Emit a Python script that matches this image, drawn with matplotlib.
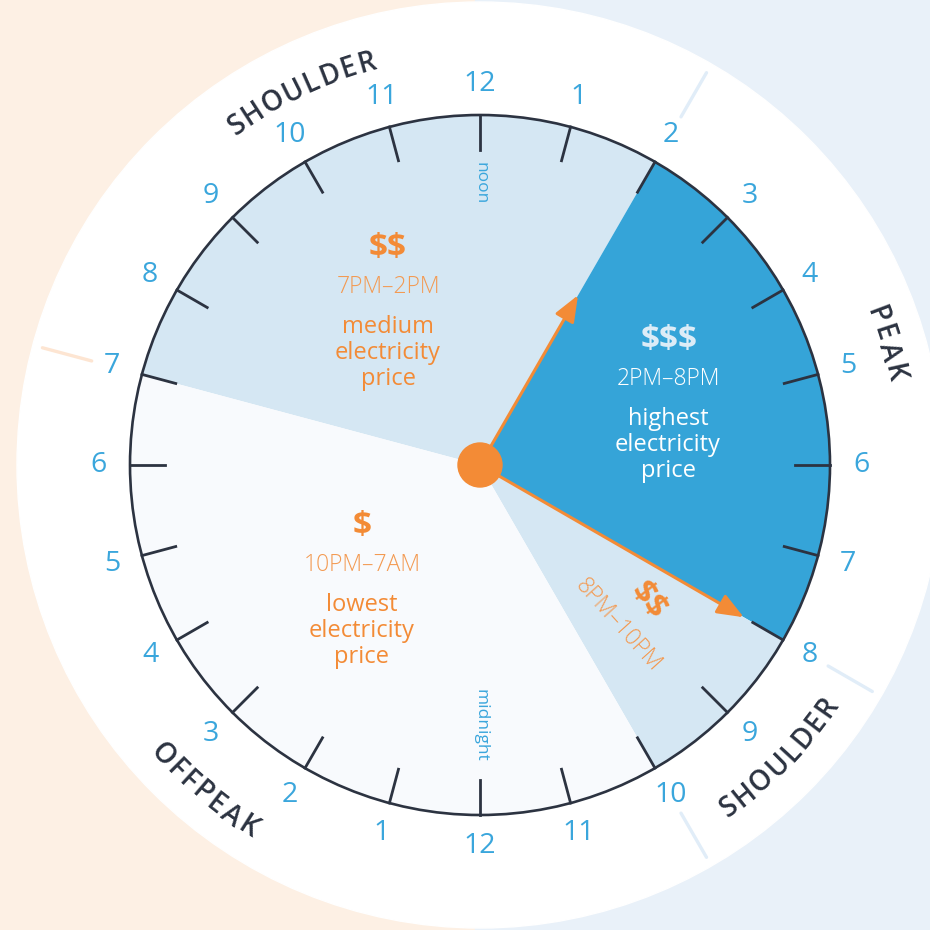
import numpy as np
import matplotlib.pyplot as plt
from matplotlib.patches import Wedge, Circle, Rectangle, FancyArrowPatch
from matplotlib.font_manager import FontProperties
from matplotlib.textpath import TextPath

plt.rcParams["text.parse_math"] = False

# tariff periods on a 24 hour clock (hour 0 = midnight at the bottom, noon on top)
period_names = ["SHOULDER", "PEAK", "SHOULDER", "OFFPEAK"]
period_start = [7, 14, 20, 22]
period_end = [14, 20, 22, 31]
price_signs = ["$$", "$$$", "$$", "$"]
period_ranges = ["7PM–2PM", "2PM–8PM", "8PM–10PM", "10PM–7AM"]
period_desc = ["medium\nelectricity\nprice", "highest\nelectricity\nprice", "",
               "lowest\nelectricity\nprice"]
hour_labels = [12, 1, 2, 3, 4, 5, 6, 7, 8, 9, 10, 11,
               12, 1, 2, 3, 4, 5, 6, 7, 8, 9, 10, 11]
arrow_hours = [14, 20]
arrow_len = [0.56, 0.87]
# where the outer period names sit (hour, radius)
name_hour = [10.3, 16.9, 20.95, 2.68]
name_radius = [410, 416, 431, 438]
name_outward = [True, True, False, False]

FONT = "Open Sans"
ORANGE = "#f38b36"
ORANGE_LT = "#f39a52"
BLUE_TXT = "#3aa6dc"
DARK = "#2c3341"
R = 350  # clock face radius in px

seg_colors = ["#d5e7f3", "#35a4d8", "#d5e7f3", "#f8fafd"]


def clock_angle(h):
    # degrees, clockwise from the top
    return (h - 12) * 15.0


def polar(h, r):
    t = np.radians(clock_angle(h))
    return r * np.sin(t), r * np.cos(t)


def curved_text(ax, text, hour, r, size, outward=True, **kw):
    fp = FontProperties(family=FONT, weight=kw.get("fontweight", "normal"))
    px = size * 100 / 72.0
    widths = []
    for ch in text:
        ext = TextPath((0, 0), ch, size=px, prop=fp).get_extents()
        widths.append(ext.x1 + px * 0.12)
    total = sum(widths)
    tc = np.radians(clock_angle(hour))
    sgn = 1 if outward else -1
    cum = 0.0
    for ch, w in zip(text, widths):
        t = tc + sgn * (cum + w / 2 - total / 2) / r
        td = np.degrees(t)
        rot = -td if outward else 180 - td
        ax.text(r * np.sin(t), r * np.cos(t), ch, rotation=rot, rotation_mode="anchor",
                ha="center", va="baseline", fontsize=size, family=FONT, **kw)
        cum += w


fig = plt.figure(figsize=(9.3, 9.3), dpi=100)
ax = fig.add_axes([0, 0, 1, 1])
ax.set_xlim(-480, 450)
ax.set_ylim(-465, 465)
ax.set_aspect("equal")
ax.axis("off")

ax.add_patch(Rectangle((-480, -465), 475, 930, color="#fdf0e4", zorder=0))
ax.add_patch(Rectangle((-5, -465), 455, 930, color="#e9f1f9", zorder=0))
ax.add_patch(Circle((0, 0), 463, color="white", zorder=1))

# separators in the outer ring
for h in period_start:
    x0, y0 = polar(h, 402)
    x1, y1 = polar(h, 453)
    col = "#fde5d2" if x0 < -5 else "#e1edf8"
    ax.plot([x0, x1], [y0, y1], color=col, lw=2.4, solid_capstyle="round", zorder=2)

# period wedges
for s, e, c in zip(period_start, period_end, seg_colors):
    ax.add_patch(Wedge((0, 0), R, 90 - clock_angle(e), 90 - clock_angle(s),
                       facecolor=c, edgecolor="none", zorder=2))

ax.add_patch(Circle((0, 0), R, facecolor="none", edgecolor=DARK, lw=1.9, zorder=4))

# hour ticks and labels
for h, lab in enumerate(hour_labels):
    x0, y0 = polar(h, 315)
    x1, y1 = polar(h, R)
    ax.plot([x0, x1], [y0, y1], color=DARK, lw=2.0, zorder=4)
    tx, ty = polar(h, 381)
    ax.text(tx, ty, str(lab), ha="center", va="center", fontsize=20.5,
            color=BLUE_TXT, family=FONT, zorder=5)

ax.text(*polar(12, 282), "noon", rotation=-90, ha="center", va="center",
        fontsize=12.5, color=BLUE_TXT, family=FONT, zorder=5)
ax.text(*polar(0, 260), "midnight", rotation=-90, ha="center", va="center",
        fontsize=12.5, color=BLUE_TXT, family=FONT, zorder=5)

# arrows and hub
for h, f in zip(arrow_hours, arrow_len):
    ax.add_patch(FancyArrowPatch((0, 0), polar(h, R * f),
                                 arrowstyle="-|>,head_length=0.8,head_width=0.32",
                                 mutation_scale=20, lw=2.2, color=ORANGE,
                                 shrinkA=0, shrinkB=0, zorder=6))
ax.add_patch(Circle((0, 0), 22, color=ORANGE, zorder=7))

sign_kw = dict(ha="center", va="center", fontsize=24, fontweight="bold", family=FONT, zorder=5)
range_kw = dict(ha="center", va="center", fontsize=16.5, fontweight="light", family=FONT, zorder=5)
desc_kw = dict(ha="center", va="center", fontsize=17, family=FONT, linespacing=1.12, zorder=5)

# shoulder (morning)
ax.text(-92, 216, price_signs[0], color=ORANGE, **sign_kw)
ax.text(-92, 178, period_ranges[0], color=ORANGE_LT, **range_kw)
ax.text(-92, 112, period_desc[0], color=ORANGE, **desc_kw)
# peak
ax.text(189, 124, price_signs[1], color="#dcecf7", **sign_kw)
ax.text(188, 86, period_ranges[1], color="white", **range_kw)
ax.text(188, 20, period_desc[1], color="white", **desc_kw)
# shoulder (evening)
ax.text(168, -136, price_signs[2], color=ORANGE, rotation=-52, **sign_kw)
ax.text(138, -160, period_ranges[2], color=ORANGE_LT, rotation=-48, **range_kw)
# offpeak
ax.text(-118, -62, price_signs[3], color=ORANGE, **sign_kw)
ax.text(-118, -100, period_ranges[3], color=ORANGE_LT, **range_kw)
ax.text(-118, -166, period_desc[3], color=ORANGE, **desc_kw)

# period names around the rim
for name, h, r, out in zip(period_names, name_hour, name_radius, name_outward):
    curved_text(ax, name, h, r, 20, outward=out, color=DARK, fontweight="semibold", zorder=5)

fig.savefig("out.png", dpi=100)
